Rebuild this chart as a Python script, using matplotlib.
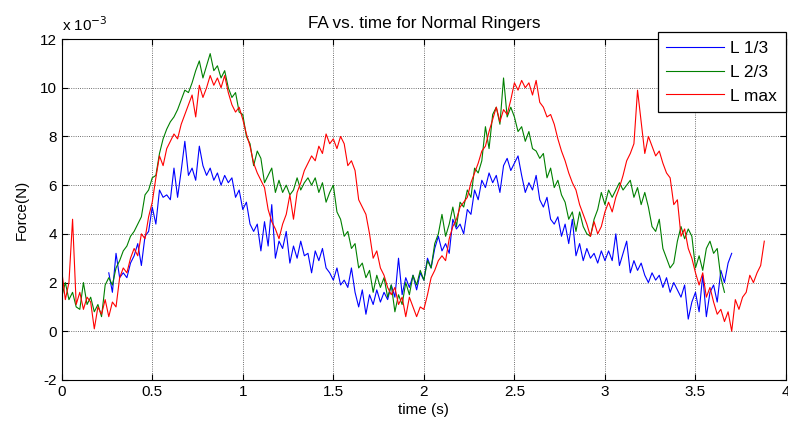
import numpy as np
import matplotlib
matplotlib.use("Agg")
import matplotlib.pyplot as plt
from matplotlib.ticker import FormatStrFormatter

plt.rcParams['font.family'] = ['Liberation Sans', 'DejaVu Sans']

dt = 0.02

# force values in units of 1e-3 N, sampled every dt seconds
t0_l13 = 0.26
l13 = [2.4, 1.6, 3.2, 2.2, 2.4, 2.2, 2.8, 3.1, 3.6, 2.7, 3.9, 4.1, 5.1, 4.4, 5.8, 5.5,
       5.6, 5.4, 6.7, 5.5, 6.6, 7.8, 6.4, 6.7, 6.2, 7.6, 6.8, 6.4, 6.7, 6.2, 6.5, 6.0,
       6.4, 6.1, 6.3, 5.5, 5.8, 5.0, 5.3, 4.4, 4.1, 4.4, 3.3, 4.5, 3.5, 5.2, 3.0, 3.7,
       3.4, 4.1, 2.8, 3.5, 3.0, 3.7, 3.1, 3.2, 2.4, 3.3, 2.9, 3.4, 2.6, 2.4, 2.1, 2.6,
       1.9, 2.1, 1.8, 2.6, 1.6, 1.0, 1.7, 0.7, 1.5, 1.1, 1.7, 1.2, 1.6, 1.3, 1.9, 1.4,
       3.0, 1.5, 2.2, 1.8, 2.3, 1.7, 2.4, 2.1, 3.0, 2.6, 3.4, 3.9, 3.3, 3.6, 3.2, 4.6,
       4.2, 4.4, 4.0, 5.0, 4.8, 5.8, 5.4, 6.2, 5.9, 6.5, 6.1, 6.4, 5.7, 6.8, 7.1, 6.6,
       6.9, 7.2, 6.4, 5.7, 6.1, 5.8, 6.4, 5.4, 5.1, 5.5, 4.6, 4.4, 4.7, 3.9, 4.4, 3.6,
       4.6, 3.1, 3.6, 2.9, 3.4, 3.0, 3.2, 2.8, 3.3, 2.9, 3.3, 2.9, 4.0, 2.7, 3.2, 3.7,
       2.4, 2.9, 2.5, 2.8, 2.3, 2.0, 2.4, 2.1, 2.3, 1.8, 2.2, 1.6, 2.0, 1.7, 1.4, 1.9,
       0.5, 1.2, 1.6, 0.8, 2.3, 0.6, 1.6, 1.9, 1.2, 2.5, 2.0, 2.8, 3.2]

t0_l23 = 0.0
l23 = [1.4, 2.0, 1.3, 1.6, 1.0, 0.9, 2.0, 1.1, 1.4, 0.8, 1.1, 0.6, 1.9, 2.2, 1.9, 2.6,
       2.9, 3.3, 3.5, 3.9, 4.1, 4.4, 4.7, 5.6, 5.8, 6.3, 6.4, 7.3, 7.9, 8.3, 8.6, 8.8,
       9.1, 9.5, 9.9, 9.8, 10.2, 10.7, 11.1, 10.4, 10.9, 11.4, 10.7, 10.9, 10.4, 10.7,
       10.0, 9.6, 9.8, 9.0, 8.9, 8.0, 7.7, 6.8, 7.4, 7.1, 6.1, 6.4, 6.7, 5.7, 6.2, 5.7,
       6.0, 5.6, 5.8, 6.3, 5.8, 6.1, 6.3, 6.0, 6.3, 5.7, 6.1, 5.3, 5.7, 6.0, 4.9, 4.6,
       3.9, 4.1, 3.4, 3.6, 2.6, 2.8, 2.2, 2.5, 1.6, 2.3, 1.8, 2.2, 1.4, 1.9, 0.8, 1.5,
       1.1, 2.0, 1.5, 2.3, 1.9, 2.5, 2.1, 2.9, 2.6, 3.6, 4.0, 4.8, 3.9, 4.4, 5.1, 4.3,
       5.3, 5.1, 5.8, 5.5, 6.7, 6.5, 7.0, 8.4, 7.5, 8.9, 9.2, 8.5, 10.4, 8.8, 9.2, 8.8,
       8.2, 8.4, 7.8, 8.2, 7.5, 7.4, 7.1, 7.3, 6.3, 6.7, 5.9, 6.2, 5.6, 5.3, 4.6, 4.9,
       4.1, 4.9, 4.3, 4.0, 3.9, 4.6, 5.0, 5.7, 5.2, 5.8, 5.5, 5.8, 6.1, 5.8, 6.0, 6.2,
       5.5, 5.9, 5.2, 5.7, 5.1, 4.3, 4.1, 4.6, 3.4, 3.0, 2.6, 2.8, 3.7, 4.3, 3.8, 4.2,
       3.9, 2.6, 3.1, 2.5, 3.4, 3.7, 3.2, 3.4, 2.2, 1.6]

t0_lmax = 0.0
lmax = [2.5, 1.3, 2.0, 4.6, 1.1, 1.6, 0.9, 1.4, 1.2, 0.1, 1.0, 0.7, 1.3, 0.6, 1.2, 1.0,
        2.2, 2.6, 2.4, 3.0, 3.4, 3.1, 4.0, 3.8, 4.7, 5.3, 6.3, 7.2, 6.8, 7.5, 7.8, 8.1,
        7.9, 8.5, 8.9, 9.3, 9.7, 8.8, 10.1, 9.6, 10.0, 10.5, 10.1, 10.4, 10.0, 10.5, 9.8,
        9.3, 9.0, 9.2, 8.7, 8.1, 7.6, 6.9, 6.5, 6.2, 5.9, 5.0, 4.5, 4.2, 3.8, 4.4, 4.8,
        5.6, 4.6, 5.7, 6.1, 6.6, 6.9, 7.2, 7.0, 7.6, 7.3, 8.1, 7.7, 7.9, 7.5, 8.0, 7.7,
        6.8, 7.0, 6.6, 5.4, 5.1, 4.8, 4.0, 3.0, 3.3, 2.6, 2.3, 1.8, 1.5, 1.8, 1.1, 1.4,
        0.6, 1.4, 1.0, 0.6, 1.0, 0.9, 1.5, 2.2, 2.5, 2.9, 3.1, 2.9, 3.8, 4.3, 4.6, 5.1,
        5.3, 5.5, 6.1, 6.5, 6.9, 7.4, 7.6, 8.2, 8.7, 9.2, 8.6, 9.1, 8.9, 9.5, 10.2, 9.9,
        10.3, 10.0, 10.2, 9.7, 10.3, 9.4, 9.2, 8.8, 8.9, 8.5, 7.9, 7.4, 7.0, 6.5, 6.1,
        5.8, 5.2, 4.8, 4.4, 3.9, 4.5, 4.0, 4.3, 4.9, 5.3, 4.9, 5.5, 5.9, 6.4, 7.0, 7.3,
        7.7, 9.9, 8.6, 7.3, 8.0, 7.6, 7.2, 7.4, 6.9, 6.5, 6.3, 5.2, 5.4, 3.9, 4.2, 3.4,
        3.0, 2.4, 1.9, 2.4, 1.4, 1.8, 1.2, 0.7, 0.9, 0.4, 0.8, 0.0, 1.3, 0.9, 1.4, 1.6,
        2.3, 2.0, 2.4, 2.7, 3.7]

series = [
    ("L 1/3", t0_l13, l13, (0, 0, 1)),
    ("L 2/3", t0_l23, l23, (0, 0.5, 0)),
    ("L max", t0_lmax, lmax, (1, 0, 0)),
]

fig = plt.figure(figsize=(7.88, 4.30), dpi=100)
ax = fig.add_axes([0.0783, 0.1163, 0.9192, 0.7930])

for name, t0, vals, col in series:
    t = t0 + dt * np.arange(len(vals))
    ax.plot(t, vals, color=col, lw=0.8, label=name)

ax.set_xlim(0, 4)
ax.set_ylim(-2, 12)
ax.set_xticks(np.arange(0, 4.01, 0.5))
ax.set_yticks(np.arange(-2, 12.1, 2))
ax.xaxis.set_major_formatter(FormatStrFormatter('%g'))
ax.yaxis.set_major_formatter(FormatStrFormatter('%g'))
ax.tick_params(direction='in', top=True, right=True, length=4, labelsize=11)
ax.grid(True, linestyle=':', color='#404040', lw=0.6)
for s in ax.spines.values():
    s.set_linewidth(0.8)

ax.set_title("FA vs. time for Normal Ringers", fontsize=12.3, pad=8)
ax.set_xlabel("time (s)", fontsize=11, labelpad=3)
ax.set_ylabel("Force(N)", fontsize=11, labelpad=8)
ax.text(0.0, 1.015, r"x 10$^{-3}$", transform=ax.transAxes, fontsize=11,
        ha='left', va='bottom')

leg = ax.legend(loc='upper right', bbox_to_anchor=(1.0, 1.0205), fontsize=12.5,
                fancybox=False, edgecolor='black', framealpha=1,
                handlelength=3.3, handletextpad=0.4, borderpad=0.5,
                borderaxespad=0, labelspacing=0.5)
leg.get_frame().set_linewidth(0.9)

fig.savefig("out.png", dpi=100)
